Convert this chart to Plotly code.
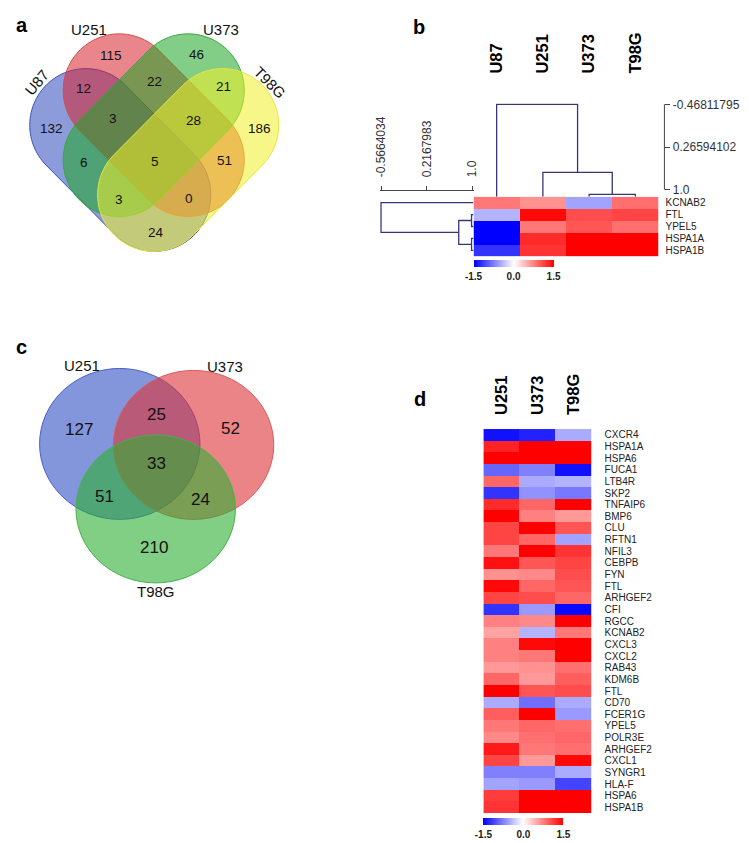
import numpy as np
import plotly.graph_objects as go

W, H = 749, 843
OFF = 8  # the page body adds an 8px margin; positions below are in screen pixels

# ------------------------------------------------------------------ data
# panel a : 4-set Venn (A=U87, B=U251, C=U373, D=T98G)
venn4_sets = ["U87", "U251", "U373", "T98G"]
venn4_regions = ["B", "C", "AB", "BC", "CD", "A", "ABC", "BCD", "D",
                 "AC", "ABCD", "BD", "ACD", "ABD", "AD"]
venn4_counts = [115, 46, 12, 22, 21, 132, 3, 28, 186, 6, 5, 51, 3, 0, 24]

# panel c : 3-set Venn (A=U251, B=U373, C=T98G)
venn3_sets = ["U251", "U373", "T98G"]
venn3_regions = ["A", "AB", "B", "ABC", "AC", "BC", "C"]
venn3_counts = [127, 25, 52, 33, 51, 24, 210]

# panel b : heatmap with dendrograms
hb_cols = ["U87", "U251", "U373", "T98G"]
hb_rows = ["KCNAB2", "FTL", "YPEL5", "HSPA1A", "HSPA1B"]
hb_U87 = [0.80, -0.45, -1.50, -1.50, -1.20]
hb_U251 = [0.65, 1.45, 0.80, 1.25, 1.20]
hb_U373 = [-0.55, 1.05, 1.00, 1.50, 1.50]
hb_T98G = [0.85, 1.10, 0.85, 1.50, 1.50]
# merges: [left, right, height]; index >= n refers to an earlier merge
hb_col_merges = [[2, 3, 1.08], [1, 4, 0.70], [0, 5, -0.46811795]]
hb_row_merges = [[1, 2, 0.983], [3, 4, 0.983], [5, 6, 0.764], [0, 7, -0.5664034]]
hb_col_scale = [-0.46811795, 0.26594102, 1.0]
hb_col_scale_text = ["-0.46811795", "0.26594102", "1.0"]
hb_row_scale = [-0.5664034, 0.2167983, 1.0]
hb_row_scale_text = ["-0.5664034", "0.2167983", "1.0"]

# panel d : heatmap
hd_cols = ["U251", "U373", "T98G"]
hd_rows = ["CXCR4", "HSPA1A", "HSPA6", "FUCA1", "LTB4R", "SKP2", "TNFAIP6",
           "BMP6", "CLU", "RFTN1", "NFIL3", "CEBPB", "FYN", "FTL", "ARHGEF2",
           "CFI", "RGCC", "KCNAB2", "CXCL3", "CXCL2", "RAB43", "KDM6B", "FTL",
           "CD70", "FCER1G", "YPEL5", "POLR3E", "ARHGEF2", "CXCL1", "SYNGR1",
           "HLA-F", "HSPA6", "HSPA1B"]
hd_U251 = [-1.40, 1.30, 1.50, -0.90, 0.90, -1.20, 1.25, 1.50, 1.10, 1.10,
           0.80, 1.40, 0.65, 1.45, 1.10, -1.20, 0.75, 0.55, 0.75, 0.75,
           0.60, 0.90, 1.50, -0.50, 0.95, 0.80, 0.70, 1.35, 1.10, -0.75,
           -0.55, 1.15, 1.20]
hd_U373 = [-1.30, 1.50, 1.50, -0.75, -0.50, -0.65, 0.90, 0.75, 1.50, 0.90,
           1.50, 1.00, 0.70, 0.90, 1.05, -0.60, 0.70, -0.45, 1.45, 0.80,
           0.65, 0.60, 1.00, -0.85, 1.50, 0.90, 0.85, 0.80, 0.60, -0.75,
           -0.60, 1.50, 1.50]
hd_T98G = [-0.50, 1.50, 1.50, -1.40, -0.45, -0.80, 1.50, 0.60, 1.00, -0.55,
           1.20, 1.10, 1.05, 1.00, 0.90, -1.45, 1.50, 0.80, 1.50, 1.50,
           0.85, 0.95, 1.05, -0.50, -0.60, 0.85, 0.90, 0.85, 1.45, -0.50,
           -1.10, 1.50, 1.50]

# ------------------------------------------------------------------ style / layout helpers
SANS = "Liberation Sans, Arial, sans-serif"
DENDRO = "#35357a"
CSCALE = [[0, "rgb(0,0,255)"], [0.5, "rgb(255,255,255)"], [1, "rgb(255,0,0)"]]


def fx(px):
    return (px - OFF) / W


def fy(py):
    return 1 - (py - OFF) / H


def capsule_path(cx, cy, L, r, ang_deg, n=60):
    th = np.deg2rad(ang_deg)
    t1 = np.linspace(-np.pi / 2, np.pi / 2, n)
    t2 = np.linspace(np.pi / 2, 3 * np.pi / 2, n)
    u = np.concatenate([L + r * np.cos(t1), -L + r * np.cos(t2)])
    v = np.concatenate([r * np.sin(t1), r * np.sin(t2)])
    xs = cx + u * np.cos(th) - v * np.sin(th)
    ys = cy + u * np.sin(th) + v * np.cos(th)
    return "M " + " L ".join(f"{x:.2f},{y:.2f}" for x, y in zip(xs, ys)) + " Z"


def dendro(merges, n, leaf_h):
    pos = list(range(n))
    hts = [leaf_h] * n
    P, Hh = [], []
    for l, r, h in merges:
        P += [pos[l], pos[l], pos[r], pos[r], None]
        Hh += [hts[l], h, h, hts[r], None]
        pos.append((pos[l] + pos[r]) / 2)
        hts.append(h)
    return P, Hh


fig = go.Figure()
shapes = []
ann = []

# ------------------------------------------------------------------ panel a
venn4_geom = {  # cx, cy, half-length, radius, angle, fill, line
    "U87": (116, 155, 49.5, 57, 45, "rgba(45,75,190,0.55)", "#3a4fc0"),
    "U251": (150, 120, 49.5, 57, 45, "rgba(215,35,45,0.55)", "#d84a4a"),
    "U373": (150, 120, 49.5, 57, 135, "rgba(30,165,35,0.55)", "#3aa63a"),
    "T98G": (185, 155, 49.5, 57, 135, "rgba(240,240,40,0.55)", "#e6e640"),
}
for s in venn4_sets:
    cx, cy, L, r, ang, fc, lc = venn4_geom[s]
    shapes.append(dict(type="path", xref="x", yref="y", path=capsule_path(cx, cy, L, r, ang),
                       fillcolor=fc, line=dict(color=lc, width=1), layer="below"))
venn4_pos = {"B": (107, 50), "C": (193, 49), "AB": (79, 83), "BC": (151, 76), "CD": (221, 81),
             "A": (46, 123), "ABC": (109, 113), "BCD": (190, 115), "D": (257, 123),
             "AC": (79, 158), "ABCD": (151, 157), "BD": (222, 156), "ACD": (115, 195),
             "ABD": (186, 194), "AD": (152, 228)}
for reg, c in zip(venn4_regions, venn4_counts):
    x, y = venn4_pos[reg]
    ann.append(dict(x=x, y=y, xref="x", yref="y", text=str(c), showarrow=False,
                    font=dict(family=SANS, size=13.5, color="#111")))
venn4_label_pos = {"U87": (31, 77, -50), "U251": (84, 24, 0), "U373": (218, 24, 0), "T98G": (268, 77, 45)}
for s in venn4_sets:
    x, y, ang = venn4_label_pos[s]
    ann.append(dict(x=x, y=y, xref="x", yref="y", text=s, showarrow=False, textangle=ang,
                    font=dict(family=SANS, size=15, color="#111")))

# ------------------------------------------------------------------ panel c
venn3_geom = {
    "U251": ((34, 365, 197, 517), "rgba(50,80,195,0.6)", "#4a5fc8"),
    "U373": ((109, 367, 272, 517), "rgba(220,50,55,0.6)", "#dd5a5a"),
    "T98G": ((71, 432, 233, 581), "rgba(45,175,50,0.6)", "#48b048"),
}
for s in venn3_sets:
    (x0, y0, x1, y1), fc, lc = venn3_geom[s]
    shapes.append(dict(type="circle", xref="x", yref="y", x0=x0, y0=y0, x1=x1, y1=y1,
                       fillcolor=fc, line=dict(color=lc, width=1), layer="below"))
venn3_pos = {"A": (74, 426), "AB": (153, 411), "B": (228, 425), "ABC": (153, 461),
             "AC": (100, 494), "BC": (198, 497), "C": (150, 545)}
for reg, c in zip(venn3_regions, venn3_counts):
    x, y = venn3_pos[reg]
    ann.append(dict(x=x, y=y, xref="x", yref="y", text=str(c), showarrow=False,
                    font=dict(family=SANS, size=17, color="#111")))
venn3_label_pos = {"U251": (77, 362), "U373": (222, 363), "T98G": (152, 590)}
for s in venn3_sets:
    x, y = venn3_label_pos[s]
    ann.append(dict(x=x, y=y, xref="x", yref="y", text=s, showarrow=False,
                    font=dict(family=SANS, size=15, color="#111")))

# panel letters (x, y, xanchor, yanchor)
letters = {"a": (8, 19, "left", "middle"), "b": (420, 8, "center", "top"),
           "c": (8, 343, "left", "middle"), "d": (421, 396, "center", "middle")}
for letter, (x, y, xa, ya) in letters.items():
    ann.append(dict(x=x, y=y, xref="x", yref="y", text=f"<b>{letter}</b>", showarrow=False,
                    xanchor=xa, yanchor=ya, font=dict(family=SANS, size=20, color="black")))

# invisible anchor trace for the pixel axis
fig.add_trace(go.Scatter(x=[OFF, OFF + W], y=[OFF, OFF + H], mode="markers", marker=dict(opacity=0),
                         hoverinfo="skip", showlegend=False, xaxis="x", yaxis="y"))


def cbar(x_px, y_px):
    return dict(orientation="h", x=fx(x_px), xanchor="left", y=fy(y_px), yanchor="top",
                len=80, lenmode="pixels", thickness=7, xpad=0, ypad=0, outlinewidth=0,
                ticks="", tickvals=[-1.5, 0, 1.5],
                ticktext=["<b>-1.5</b>", "<b>0.0</b>", "<b>1.5</b>"],
                tickfont=dict(family=SANS, size=10, color="#222"))


# ------------------------------------------------------------------ panel b
hb_z = [list(r) for r in zip(hb_U87, hb_U251, hb_U373, hb_T98G)]
fig.add_trace(go.Heatmap(z=hb_z, x=list(range(len(hb_cols))), y=list(range(len(hb_rows))),
                         colorscale=CSCALE, zmin=-1.5, zmax=1.5, xaxis="x2", yaxis="y2",
                         colorbar=cbar(475, 256)))
col_leaf_h = 1.1195
cp, ch = dendro(hb_col_merges, len(hb_cols), col_leaf_h)
fig.add_trace(go.Scatter(x=cp, y=ch, mode="lines", line=dict(color=DENDRO, width=1.3),
                         hoverinfo="skip", showlegend=False, xaxis="x3", yaxis="y3"))
row_leaf_h = 1.0168
rp, rh = dendro(hb_row_merges, len(hb_rows), row_leaf_h)
fig.add_trace(go.Scatter(x=rh, y=rp, mode="lines", line=dict(color=DENDRO, width=1.3),
                         hoverinfo="skip", showlegend=False, xaxis="x4", yaxis="y4"))
shapes.append(dict(type="line", xref="paper", yref="y3", x0=fx(669), x1=fx(669),
                   y0=hb_col_scale[0], y1=hb_col_scale[-1], line=dict(color="#444", width=1)))

# ------------------------------------------------------------------ panel d
hd_z = [list(r) for r in zip(hd_U251, hd_U373, hd_T98G)]
fig.add_trace(go.Heatmap(z=hd_z, x=list(range(len(hd_cols))), y=list(range(len(hd_rows))),
                         colorscale=CSCALE, zmin=-1.5, zmax=1.5, xaxis="x5", yaxis="y5",
                         colorbar=cbar(485, 818)))

noax = dict(showgrid=False, zeroline=False, showline=False)
fig.update_layout(
    width=W, height=H, margin=dict(l=0, r=0, t=0, b=0),
    paper_bgcolor="white", plot_bgcolor="rgba(0,0,0,0)", showlegend=False,
    xaxis=dict(domain=[0, 1], range=[OFF, OFF + W], visible=False),
    yaxis=dict(domain=[0, 1], range=[OFF + H, OFF], visible=False),
    xaxis2=dict(domain=[fx(475), fx(663)], range=[-0.5, 3.5], visible=False, anchor="y2", **noax),
    yaxis2=dict(domain=[fy(252), fy(192)], range=[len(hb_rows) - 0.5, -0.5], anchor="x2",
                side="right", tickvals=list(range(len(hb_rows))), ticktext=hb_rows, ticks="",
                ticklabelstandoff=6, tickfont=dict(family=SANS, size=10, color="#222"), **noax),
    xaxis3=dict(domain=[fx(475), fx(663)], range=[-0.5, 3.5], anchor="free", position=fy(68),
                side="top", tickvals=list(range(len(hb_cols))),
                ticktext=[f"<b>{c}</b>" for c in hb_cols], tickangle=-90, ticks="",
                tickfont=dict(family=SANS, size=16.5, color="black"), **noax),
    yaxis3=dict(domain=[fy(192), fy(98)], range=[col_leaf_h, -0.485], anchor="free",
                position=fx(669), side="right", tickvals=hb_col_scale, ticktext=hb_col_scale_text,
                ticks="outside", ticklen=5, tickcolor="#444",
                tickfont=dict(family=SANS, size=12, color="#333"), **noax),
    xaxis4=dict(domain=[fx(380), fx(475)], range=[-0.5664034 - 0.0168, row_leaf_h], anchor="free",
                position=fy(185), side="top", tickvals=hb_row_scale, ticktext=hb_row_scale_text,
                tickangle=-90, ticks="outside", ticklen=4, tickcolor="#444", ticklabelstandoff=6,
                showline=True, linecolor="#444", linewidth=1, showgrid=False, zeroline=False,
                tickfont=dict(family=SANS, size=12, color="#333")),
    yaxis4=dict(domain=[fy(252), fy(192)], range=[len(hb_rows) - 0.5, -0.5], anchor="x4",
                visible=False),
    xaxis5=dict(domain=[fx(485), fx(595)], range=[-0.5, 2.5], anchor="y5", side="top",
                tickvals=list(range(len(hd_cols))), ticktext=[f"<b>{c}</b>" for c in hd_cols],
                tickangle=-90, ticks="", ticklabelstandoff=13,
                tickfont=dict(family=SANS, size=16.5, color="black"), **noax),
    yaxis5=dict(domain=[fy(813), fy(426)], range=[len(hd_rows) - 0.5, -0.5], anchor="x5",
                side="right", tickvals=list(range(len(hd_rows))), ticktext=hd_rows, ticks="",
                ticklabelstandoff=12, tickfont=dict(family=SANS, size=10, color="#222"), **noax),
    shapes=shapes,
    annotations=ann,
)

fig.write_html("out.html")
